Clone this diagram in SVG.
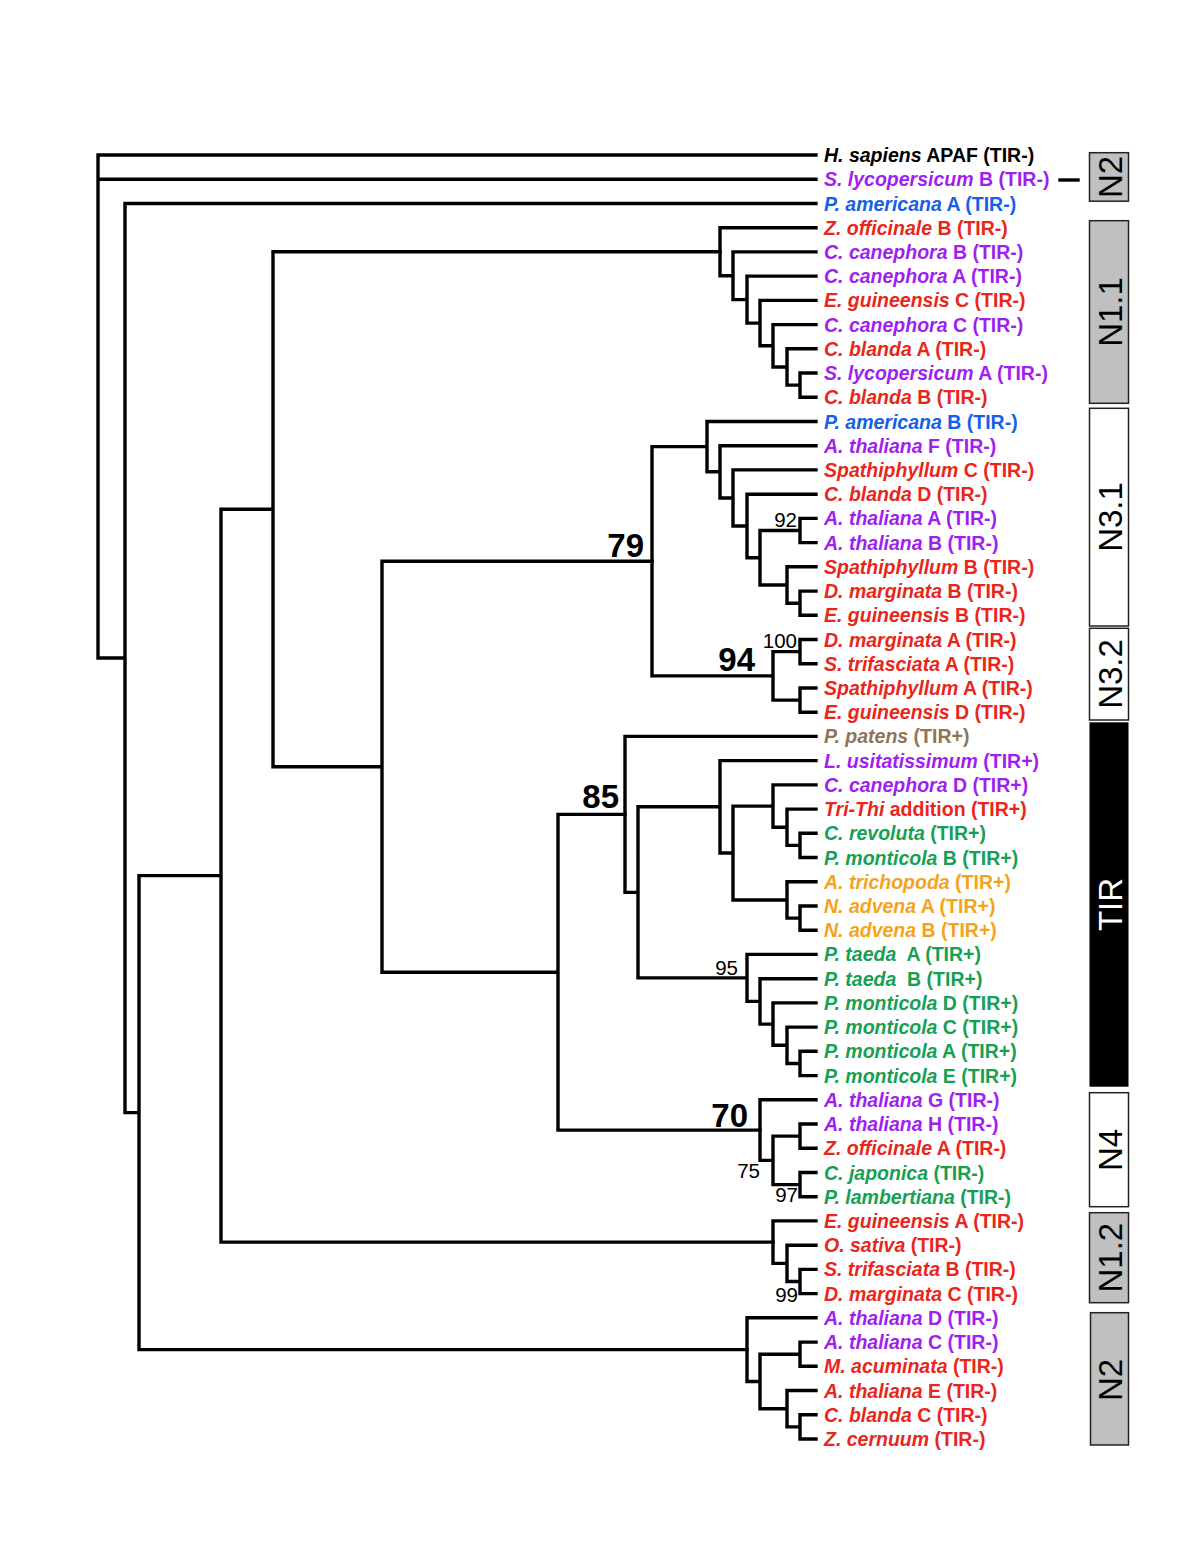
<svg xmlns="http://www.w3.org/2000/svg" width="1200" height="1553" viewBox="0 0 1200 1553">
<style>
.br{fill:none;stroke:#000;stroke-width:3.4;stroke-linecap:square;stroke-linejoin:miter}
.lab{font-family:"Liberation Sans",Arial,sans-serif;font-weight:bold;font-size:19.5px}
.i{font-style:italic}
.k{fill:#000}.r{fill:#e8261a}.p{fill:#a01ff0}.b{fill:#1560e8}.g{fill:#16a052}.o{fill:#f7a21b}.w{fill:#8e7458}
.bs{font-family:"Liberation Sans",Arial,sans-serif;font-weight:bold;font-size:33px;fill:#000;text-anchor:end}
.sm{font-family:"Liberation Sans",Arial,sans-serif;font-size:20.5px;fill:#000;text-anchor:end}
.box{stroke:#222;stroke-width:1.5}
.bt{font-family:"Liberation Sans",Arial,sans-serif;font-size:33px;text-anchor:middle}
</style>
<rect width="1200" height="1553" fill="#fff"/>
<g id="connectors">
<path class="br" d="M98 155V658.05M98 155H816M98 179.2H816M98 658.05H125
M125 203.5V1112.6M125 203.5H816M125 1112.6H139
M139 875.65V1349.6M139 875.65H221M139 1349.6H747
M221 509.2V1242.1M221 509.2H273M221 1242.1H773
M273 251.7V766.75M273 251.7H720M273 766.75H382
M382 561.26V972.23M382 561.26H652M382 972.23H558
M558 814.38V1130.08M558 814.38H625M558 1130.08H760"/>
<path class="br" d="M720 227.7V275.75M720 227.7H816M720 275.75H733
M733 251.9V299.6M733 251.9H816M733 299.6H747
M747 276.1V323.09M747 276.1H816M747 323.09H760
M760 300.4V345.79M760 300.4H816M760 345.79H773
M773 324.6V366.98M773 324.6H816M773 366.98H787
M787 348.8V385.15M787 348.8H816M787 385.15H800
M800 373V397.3M800 373H816M800 397.3H816"/>
<path class="br" d="M652 446.66V675.85M652 446.66H707M652 675.85H773
M707 421.5V471.82M707 421.5H816M707 471.82H720
M720 445.7V497.94M720 445.7H816M720 497.94H733
M733 469.9V525.98M733 469.9H816M733 525.98H747
M747 494.2V557.75M747 494.2H816M747 557.75H760
M760 530.5V585M760 530.5H800M760 585H787
M800 518.4V542.6M800 518.4H816M800 542.6H816
M787 566.8V603.2M787 566.8H816M787 603.2H800
M800 591.1V615.3M800 591.1H816M800 615.3H816
M773 651.6V700.1M773 651.6H800M773 700.1H800
M800 639.5V663.7M800 639.5H816M800 663.7H816
M800 688V712.2M800 688H816M800 712.2H816"/>
<path class="br" d="M625 736.4V892.35M625 736.4H816M625 892.35H638
M638 806.8V977.9M638 806.8H720M638 977.9H747
M720 760.6V853M720 760.6H816M720 853H733
M733 806.08V899.95M733 806.08H773M733 899.95H787
M773 784.9V827.25M773 784.9H816M773 827.25H787
M787 809.1V845.4M787 809.1H816M787 845.4H800
M800 833.3V857.5M800 833.3H816M800 857.5H816
M787 881.8V918.1M787 881.8H816M787 918.1H800
M800 906V930.2M800 906H816M800 930.2H816
M747 954.4V1001.4M747 954.4H816M747 1001.4H760
M760 978.7V1024.09M760 978.7H816M760 1024.09H773
M773 1002.9V1045.28M773 1002.9H816M773 1045.28H787
M787 1027.1V1063.45M787 1027.1H816M787 1063.45H800
M800 1051.3V1075.6M800 1051.3H816M800 1075.6H816"/>
<path class="br" d="M760 1099.8V1160.35M760 1099.8H816M760 1160.35H773
M773 1136.1V1184.6M773 1136.1H800M773 1184.6H800
M800 1124V1148.2M800 1124H816M800 1148.2H816
M800 1172.5V1196.7M800 1172.5H816M800 1196.7H816
M773 1220.9V1263.35M773 1220.9H816M773 1263.35H787
M787 1245.2V1281.5M787 1245.2H816M787 1281.5H800
M800 1269.4V1293.6M800 1269.4H816M800 1293.6H816
M747 1317.8V1381.45M747 1317.8H816M747 1381.45H760
M760 1354.2V1408.7M760 1354.2H800M760 1408.7H787
M800 1342.1V1366.3M800 1342.1H816M800 1366.3H816
M787 1390.5V1426.85M787 1390.5H816M787 1426.85H800
M800 1414.7V1439M800 1414.7H816M800 1439H816"/>
<path class="br" d="M1060 180H1078"/>
</g>
<g id="support">
<text class="bs" x="644" y="557">79</text>
<text class="bs" x="755" y="671">94</text>
<text class="bs" x="619" y="808">85</text>
<text class="bs" x="748" y="1127">70</text>
<text class="sm" x="797" y="648">100</text>
<text class="sm" x="797" y="527">92</text>
<text class="sm" x="738" y="975">95</text>
<text class="sm" x="760" y="1178">75</text>
<text class="sm" x="798" y="1202">97</text>
<text class="sm" x="798" y="1302">99</text>
</g>
<g id="leaves" class="lab">
<g id="leaf01"><text x="824" y="162" class="k"><tspan class="i">H. sapiens</tspan> APAF (TIR-)</text></g>
<g id="leaf02"><text x="824" y="186.2" class="p"><tspan class="i">S. lycopersicum</tspan> B (TIR-)</text></g>
<g id="leaf03"><text x="824" y="210.5" class="b"><tspan class="i">P. americana</tspan> A (TIR-)</text></g>
<g id="leaf04"><text x="824" y="234.7" class="r"><tspan class="i">Z. officinale</tspan> B (TIR-)</text></g>
<g id="leaf05"><text x="824" y="258.9" class="p"><tspan class="i">C. canephora</tspan> B (TIR-)</text></g>
<g id="leaf06"><text x="824" y="283.1" class="p"><tspan class="i">C. canephora</tspan> A (TIR-)</text></g>
<g id="leaf07"><text x="824" y="307.4" class="r"><tspan class="i">E. guineensis</tspan> C (TIR-)</text></g>
<g id="leaf08"><text x="824" y="331.6" class="p"><tspan class="i">C. canephora</tspan> C (TIR-)</text></g>
<g id="leaf09"><text x="824" y="355.8" class="r"><tspan class="i">C. blanda</tspan> A (TIR-)</text></g>
<g id="leaf10"><text x="824" y="380" class="p"><tspan class="i">S. lycopersicum</tspan> A (TIR-)</text></g>
<g id="leaf11"><text x="824" y="404.3" class="r"><tspan class="i">C. blanda</tspan> B (TIR-)</text></g>
<g id="leaf12"><text x="824" y="428.5" class="b"><tspan class="i">P. americana</tspan> B (TIR-)</text></g>
<g id="leaf13"><text x="824" y="452.7" class="p"><tspan class="i">A. thaliana</tspan> F (TIR-)</text></g>
<g id="leaf14"><text x="824" y="476.9" class="r"><tspan class="i">Spathiphyllum</tspan> C (TIR-)</text></g>
<g id="leaf15"><text x="824" y="501.2" class="r"><tspan class="i">C. blanda</tspan> D (TIR-)</text></g>
<g id="leaf16"><text x="824" y="525.4" class="p"><tspan class="i">A. thaliana</tspan> A (TIR-)</text></g>
<g id="leaf17"><text x="824" y="549.6" class="p"><tspan class="i">A. thaliana</tspan> B (TIR-)</text></g>
<g id="leaf18"><text x="824" y="573.8" class="r"><tspan class="i">Spathiphyllum</tspan> B (TIR-)</text></g>
<g id="leaf19"><text x="824" y="598.1" class="r"><tspan class="i">D. marginata</tspan> B (TIR-)</text></g>
<g id="leaf20"><text x="824" y="622.3" class="r"><tspan class="i">E. guineensis</tspan> B (TIR-)</text></g>
<g id="leaf21"><text x="824" y="646.5" class="r"><tspan class="i">D. marginata</tspan> A (TIR-)</text></g>
<g id="leaf22"><text x="824" y="670.7" class="r"><tspan class="i">S. trifasciata</tspan> A (TIR-)</text></g>
<g id="leaf23"><text x="824" y="695" class="r"><tspan class="i">Spathiphyllum</tspan> A (TIR-)</text></g>
<g id="leaf24"><text x="824" y="719.2" class="r"><tspan class="i">E. guineensis</tspan> D (TIR-)</text></g>
<g id="leaf25"><text x="824" y="743.4" class="w"><tspan class="i">P. patens</tspan> (TIR+)</text></g>
<g id="leaf26"><text x="824" y="767.6" class="p"><tspan class="i">L. usitatissimum</tspan> (TIR+)</text></g>
<g id="leaf27"><text x="824" y="791.9" class="p"><tspan class="i">C. canephora</tspan> D (TIR+)</text></g>
<g id="leaf28"><text x="824" y="816.1" class="r"><tspan class="i">Tri-Thi</tspan> addition (TIR+)</text></g>
<g id="leaf29"><text x="824" y="840.3" class="g"><tspan class="i">C. revoluta</tspan> (TIR+)</text></g>
<g id="leaf30"><text x="824" y="864.5" class="g"><tspan class="i">P. monticola</tspan> B (TIR+)</text></g>
<g id="leaf31"><text x="824" y="888.8" class="o"><tspan class="i">A. trichopoda</tspan> (TIR+)</text></g>
<g id="leaf32"><text x="824" y="913" class="o"><tspan class="i">N. advena</tspan> A (TIR+)</text></g>
<g id="leaf33"><text x="824" y="937.2" class="o"><tspan class="i">N. advena</tspan> B (TIR+)</text></g>
<g id="leaf34"><text x="824" y="961.4" class="g" xml:space="preserve"><tspan class="i">P. taeda</tspan>  A (TIR+)</text></g>
<g id="leaf35"><text x="824" y="985.7" class="g" xml:space="preserve"><tspan class="i">P. taeda</tspan>  B (TIR+)</text></g>
<g id="leaf36"><text x="824" y="1009.9" class="g"><tspan class="i">P. monticola</tspan> D (TIR+)</text></g>
<g id="leaf37"><text x="824" y="1034.1" class="g"><tspan class="i">P. monticola</tspan> C (TIR+)</text></g>
<g id="leaf38"><text x="824" y="1058.3" class="g"><tspan class="i">P. monticola</tspan> A (TIR+)</text></g>
<g id="leaf39"><text x="824" y="1082.6" class="g"><tspan class="i">P. monticola</tspan> E (TIR+)</text></g>
<g id="leaf40"><text x="824" y="1106.8" class="p"><tspan class="i">A. thaliana</tspan> G (TIR-)</text></g>
<g id="leaf41"><text x="824" y="1131" class="p"><tspan class="i">A. thaliana</tspan> H (TIR-)</text></g>
<g id="leaf42"><text x="824" y="1155.2" class="r"><tspan class="i">Z. officinale</tspan> A (TIR-)</text></g>
<g id="leaf43"><text x="824" y="1179.5" class="g"><tspan class="i">C. japonica</tspan> (TIR-)</text></g>
<g id="leaf44"><text x="824" y="1203.7" class="g"><tspan class="i">P. lambertiana</tspan> (TIR-)</text></g>
<g id="leaf45"><text x="824" y="1227.9" class="r"><tspan class="i">E. guineensis</tspan> A (TIR-)</text></g>
<g id="leaf46"><text x="824" y="1252.2" class="r"><tspan class="i">O. sativa</tspan> (TIR-)</text></g>
<g id="leaf47"><text x="824" y="1276.4" class="r"><tspan class="i">S. trifasciata</tspan> B (TIR-)</text></g>
<g id="leaf48"><text x="824" y="1300.6" class="r"><tspan class="i">D. marginata</tspan> C (TIR-)</text></g>
<g id="leaf49"><text x="824" y="1324.8" class="p"><tspan class="i">A. thaliana</tspan> D (TIR-)</text></g>
<g id="leaf50"><text x="824" y="1349.1" class="p"><tspan class="i">A. thaliana</tspan> C (TIR-)</text></g>
<g id="leaf51"><text x="824" y="1373.3" class="r"><tspan class="i">M. acuminata</tspan> (TIR-)</text></g>
<g id="leaf52"><text x="824" y="1397.5" class="r"><tspan class="i">A. thaliana</tspan> E (TIR-)</text></g>
<g id="leaf53"><text x="824" y="1421.7" class="r"><tspan class="i">C. blanda</tspan> C (TIR-)</text></g>
<g id="leaf54"><text x="824" y="1446" class="r"><tspan class="i">Z. cernuum</tspan> (TIR-)</text></g>
</g>
<g id="box-N2-top"><rect class="box" x="1089.5" y="152.7" width="39" height="48.5" fill="#c0c0c0"/><text class="bt" fill="#000" transform="translate(1121.5 177) rotate(-90)">N2</text></g>
<g id="box-N1.1"><rect class="box" x="1089.5" y="220.7" width="39" height="182.6" fill="#c0c0c0"/><text class="bt" fill="#000" transform="translate(1121.5 312) rotate(-90)">N1.1</text></g>
<g id="box-N3.1"><rect class="box" x="1089.5" y="408.3" width="39" height="217.7" fill="#fff"/><text class="bt" fill="#000" transform="translate(1121.5 517) rotate(-90)">N3.1</text></g>
<g id="box-N3.2"><rect class="box" x="1089.5" y="628.3" width="39" height="91.7" fill="#fff"/><text class="bt" fill="#000" transform="translate(1121.5 674) rotate(-90)">N3.2</text></g>
<g id="box-TIR"><rect x="1089.5" y="722.3" width="39" height="364.4" fill="#000"/><text class="bt" fill="#fff" transform="translate(1121.5 904.5) rotate(-90)">TIR</text></g>
<g id="box-N4"><rect class="box" x="1089.5" y="1092.7" width="39" height="114" fill="#fff"/><text class="bt" fill="#000" transform="translate(1121.5 1150) rotate(-90)">N4</text></g>
<g id="box-N1.2"><rect class="box" x="1089.5" y="1212.7" width="39" height="90" fill="#c0c0c0"/><text class="bt" fill="#000" transform="translate(1121.5 1257.7) rotate(-90)">N1.2</text></g>
<g id="box-N2-bottom"><rect class="box" x="1090.5" y="1312.7" width="38" height="132.3" fill="#c0c0c0"/><text class="bt" fill="#000" transform="translate(1121.5 1380) rotate(-90)">N2</text></g>
</svg>
